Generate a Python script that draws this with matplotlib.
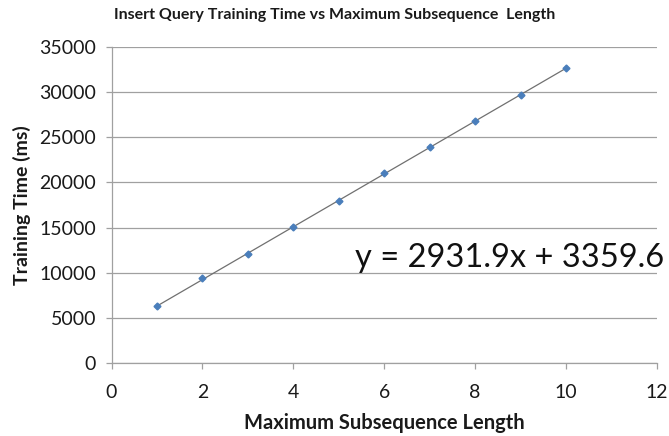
import matplotlib
matplotlib.use("Agg")
import matplotlib.pyplot as plt
import numpy as np

plt.rcParams['font.family'] = ['Lato', 'DejaVu Sans']

# Data
max_len = [1, 2, 3, 4, 5, 6, 7, 8, 9, 10]
train_ms = [6250, 9380, 12080, 15040, 18000, 21050, 23890, 26780, 29740, 32740]
slope = 2931.9
intercept = 3359.6
x_ticks = [0, 2, 4, 6, 8, 10, 12]
y_ticks = [0, 5000, 10000, 15000, 20000, 25000, 30000, 35000]

fig = plt.figure(figsize=(6.69, 4.36), dpi=100)
ax = fig.add_axes([0.1667, 0.168, 0.982 - 0.1667, 0.8915 - 0.168])

ax.set_xlim(0, 12)
ax.set_ylim(0, 35000)
ax.set_xticks(x_ticks)
ax.set_yticks(y_ticks)
ax.yaxis.grid(True, color='#a0a0a0', linewidth=0.9)
ax.set_axisbelow(True)

for s in ['top', 'right']:
    ax.spines[s].set_visible(False)
for s in ['left', 'bottom']:
    ax.spines[s].set_color('#a0a0a0')
    ax.spines[s].set_linewidth(0.9)
ax.tick_params(axis='both', colors='#a0a0a0', length=4, width=0.9,
               labelsize=14, labelcolor='#1a1a1a')
ax.tick_params(axis='x', pad=11)
ax.tick_params(axis='y', pad=7)

# trendline
xs = np.array([max_len[0], max_len[-1]])
ax.plot(xs, slope * xs + intercept, color='#707070', linewidth=0.9, zorder=2)

ax.plot(max_len, train_ms, linestyle='none', marker='D', markersize=3.5,
        color='#4a7ebb', zorder=3)

ax.text(5.36, 11650, f"y = {slope}x + {intercept}", fontsize=23.5,
        ha='left', va='center', color='#111111')

ax.set_xlabel("Maximum Subsequence Length", fontsize=14.5, fontweight='bold',
              color='#1a1a1a', labelpad=9)
ax.set_ylabel("Training Time (ms)", fontsize=14, fontweight='bold',
              color='#1a1a1a', labelpad=6)
fig.text(0.5, 0.965, "Insert Query Training Time vs Maximum Subsequence  Length",
         ha='center', va='center', fontsize=11.5, fontweight='bold', color='#1a1a1a')

fig.savefig("out.png", dpi=100, facecolor='white')
